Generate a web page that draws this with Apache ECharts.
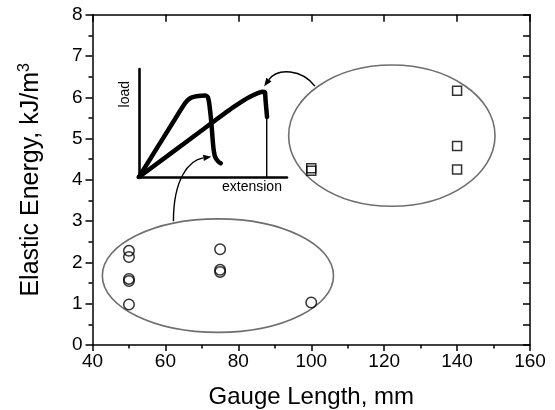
<!DOCTYPE html>
<html>
<head>
<meta charset="utf-8">
<script src="https://cdn.jsdelivr.net/npm/echarts@6/dist/echarts.min.js"></script>
<style>
  html, body { margin: 0; padding: 0; background: #fff; }
  #chart { width: 555px; height: 410px; }
</style>
</head>
<body>
<div id="chart"></div>
<script>
// Elastic energy measurements, grouped by specimen type
const circleX = [50, 50, 50, 50, 50, 75, 75, 75, 100];
const circleY = [2.28, 2.13, 1.60, 1.55, 0.98, 2.32, 1.82, 1.77, 1.03];
const squareX = [100, 100, 140, 140, 140];
const squareY = [4.28, 4.22, 6.16, 4.82, 4.25];

// Axis ranges and tick labels
const xTicks = [40, 60, 80, 100, 120, 140, 160];
const yTicks = [0, 1, 2, 3, 4, 5, 6, 7, 8];

// Grouping ellipses: [centre x, centre y, radius x, radius y] in data units
const groupEllipses = [
  [74.4, 1.68, 31.7, 1.375],
  [122.1, 5.07, 28.3, 1.71]
];

// Curved pointers (cubic Bezier: start, control 1, control 2, tip) in data units
const pointerLower = [[62.2, 3.00], [62.2, 4.02], [66.4, 4.48], [72.6, 4.56]];
const pointerUpper = [[101.0, 6.27], [97.4, 6.68], [90.8, 6.72], [87.1, 6.27]];

// Sketch of load vs extension traces (normalised 0-100 on both axes)
const sketchShort = [
  [0, 0], [23.2, 51.2], [31.1, 68.2], [33.4, 71.8], [35.8, 73.8], [39.9, 75.0],
  [44.6, 75.5], [46.6, 73.6], [48.0, 62.0], [49.1, 46.6], [50.2, 28.1],
  [51.4, 18.8], [53.6, 14.2], [55.2, 12.7]
];
const sketchLong = [
  [0, 0], [41.2, 41.9], [63.5, 64.4], [75.0, 74.4], [84.0, 79.0],
  [85.1, 78.7], [85.5, 71.3], [86.1, 62.0], [86.5, 55.6]
];
const sketchBreak = [[86.3, 55.6], [86.3, 0]];

const FONT = 'Liberation Sans, Arial, Helvetica, sans-serif';
const pair = (xs, ys) => xs.map((x, i) => [x, ys[i]]);

const chart = echarts.init(document.getElementById('chart'), null, { renderer: 'canvas' });

function renderEllipse(params, api) {
  const c = api.coord([api.value(0), api.value(1)]);
  const s = api.size([api.value(2), api.value(3)]);
  return {
    type: 'ellipse',
    shape: { cx: c[0], cy: c[1], rx: s[0], ry: s[1] },
    style: { fill: 'none', stroke: '#6e6e6e', lineWidth: 1.6 }
  };
}

function makePointerRenderer(pts) {
  return function (params, api) {
    if (params.dataIndex !== 0) return null;
    const p = pts.map(q => api.coord(q));
    const tip = p[3];
    const dx = tip[0] - p[2][0], dy = tip[1] - p[2][1];
    const len = Math.sqrt(dx * dx + dy * dy) || 1;
    const ux = dx / len, uy = dy / len;
    const headL = 8, headW = 3.2;
    const bx = tip[0] - ux * headL, by = tip[1] - uy * headL;
    return {
      type: 'group',
      children: [
        {
          type: 'bezierCurve',
          shape: {
            x1: p[0][0], y1: p[0][1],
            cpx1: p[1][0], cpy1: p[1][1],
            cpx2: p[2][0], cpy2: p[2][1],
            x2: bx, y2: by
          },
          style: { fill: 'none', stroke: '#000', lineWidth: 1.4 }
        },
        {
          type: 'polygon',
          shape: {
            points: [
              [tip[0], tip[1]],
              [bx - uy * headW, by + ux * headW],
              [bx + uy * headW, by - ux * headW]
            ]
          },
          style: { fill: '#000' }
        }
      ]
    };
  };
}

const axisText = { color: '#000', fontFamily: FONT, fontSize: 19 };

const option = {
  animation: false,
  backgroundColor: '#fff',
  grid: [
    { left: 92.5, right: 25, top: 14.7, bottom: 65, containLabel: false, outerBoundsMode: 'none' },
    { left: 139, top: 69, width: 148, height: 108, containLabel: false, outerBoundsMode: 'none' }
  ],
  xAxis: [
    {
      gridIndex: 0, type: 'value', position: 'bottom',
      min: xTicks[0], max: xTicks[xTicks.length - 1], interval: 20,
      axisLine: { onZero: false, lineStyle: { color: '#000', width: 1.5 } },
      axisTick: { inside: false, length: 6, lineStyle: { color: '#000', width: 1.5 } },
      minorTick: { show: true, splitNumber: 2, length: 3.5, lineStyle: { color: '#000', width: 1.5 } },
      axisLabel: Object.assign({ margin: 7 }, axisText),
      splitLine: { show: false },
      name: 'Gauge Length, mm', nameLocation: 'middle', nameGap: 40,
      nameTextStyle: { color: '#000', fontFamily: FONT, fontSize: 24 }
    },
    {
      gridIndex: 0, type: 'value', position: 'top',
      min: xTicks[0], max: xTicks[xTicks.length - 1], interval: 20,
      axisLine: { onZero: false, lineStyle: { color: '#000', width: 1.5 } },
      axisTick: { inside: true, length: 7, lineStyle: { color: '#000', width: 1.5 } },
      axisLabel: { show: false },
      splitLine: { show: false }
    },
    {
      gridIndex: 1, type: 'value', min: 0, max: 100,
      axisLine: { onZero: false, lineStyle: { color: '#000', width: 2.6 } },
      axisTick: { show: false }, axisLabel: { show: false }, splitLine: { show: false }
    }
  ],
  yAxis: [
    {
      gridIndex: 0, type: 'value', position: 'left',
      min: yTicks[0], max: yTicks[yTicks.length - 1], interval: 1,
      axisLine: { onZero: false, lineStyle: { color: '#000', width: 1.5 } },
      axisTick: { inside: false, length: 7, lineStyle: { color: '#000', width: 1.5 } },
      minorTick: { show: true, splitNumber: 2, length: 4, lineStyle: { color: '#000', width: 1.5 } },
      axisLabel: Object.assign({ margin: 10 }, axisText),
      splitLine: { show: false },
      name: '{a|Elastic Energy, kJ/m}{b|3}', nameLocation: 'middle', nameGap: 46,
      nameTextStyle: {
        color: '#000', fontFamily: FONT,
        rich: {
          a: { fontSize: 25, fontFamily: FONT, color: '#000', lineHeight: 30 },
          b: { fontSize: 16, fontFamily: FONT, color: '#000', verticalAlign: 'top', lineHeight: 30 }
        }
      }
    },
    {
      gridIndex: 0, type: 'value', position: 'right',
      min: yTicks[0], max: yTicks[yTicks.length - 1], interval: 0.5,
      axisLine: { onZero: false, lineStyle: { color: '#000', width: 1.5 } },
      axisTick: { inside: true, length: 7, lineStyle: { color: '#000', width: 1.5 } },
      axisLabel: { show: false },
      splitLine: { show: false }
    },
    {
      gridIndex: 1, type: 'value', min: 0, max: 100,
      axisLine: { onZero: false, lineStyle: { color: '#000', width: 2.6 } },
      axisTick: { show: false }, axisLabel: { show: false }, splitLine: { show: false }
    }
  ],
  graphic: [
    {
      type: 'text', left: 118, top: 81, rotation: Math.PI / 2,
      style: { text: 'load', font: '14px ' + FONT, fill: '#000' }
    },
    {
      type: 'text', left: 222, top: 180,
      style: { text: 'extension', font: '14px ' + FONT, fill: '#000' }
    }
  ],
  series: [
    {
      type: 'custom', xAxisIndex: 0, yAxisIndex: 0,
      renderItem: renderEllipse, data: groupEllipses, silent: true, z: 1
    },
    {
      type: 'custom', xAxisIndex: 0, yAxisIndex: 0,
      renderItem: makePointerRenderer(pointerLower), data: pointerLower, silent: true, z: 2
    },
    {
      type: 'custom', xAxisIndex: 0, yAxisIndex: 0,
      renderItem: makePointerRenderer(pointerUpper), data: pointerUpper, silent: true, z: 2
    },
    {
      type: 'line', xAxisIndex: 2, yAxisIndex: 2, data: sketchShort,
      showSymbol: false, smooth: 0.3,
      lineStyle: { color: '#000', width: 4.5, cap: 'round', join: 'round' }, z: 3
    },
    {
      type: 'line', xAxisIndex: 2, yAxisIndex: 2, data: sketchLong,
      showSymbol: false, smooth: 0.2,
      lineStyle: { color: '#000', width: 4.5, cap: 'round', join: 'round' }, z: 3
    },
    {
      type: 'line', xAxisIndex: 2, yAxisIndex: 2, data: sketchBreak,
      showSymbol: false,
      lineStyle: { color: '#000', width: 1.4 }, z: 3
    },
    {
      type: 'scatter', xAxisIndex: 0, yAxisIndex: 0, data: pair(circleX, circleY),
      symbol: 'circle', symbolSize: 10.5,
      itemStyle: { color: 'rgba(255,255,255,0)', borderColor: '#000', borderWidth: 1.5 }, z: 4
    },
    {
      type: 'scatter', xAxisIndex: 0, yAxisIndex: 0, data: pair(squareX, squareY),
      symbol: 'rect', symbolSize: 9,
      itemStyle: { color: 'rgba(255,255,255,0)', borderColor: '#000', borderWidth: 1.5 }, z: 4
    }
  ]
};

chart.setOption(option);
</script>
</body>
</html>
